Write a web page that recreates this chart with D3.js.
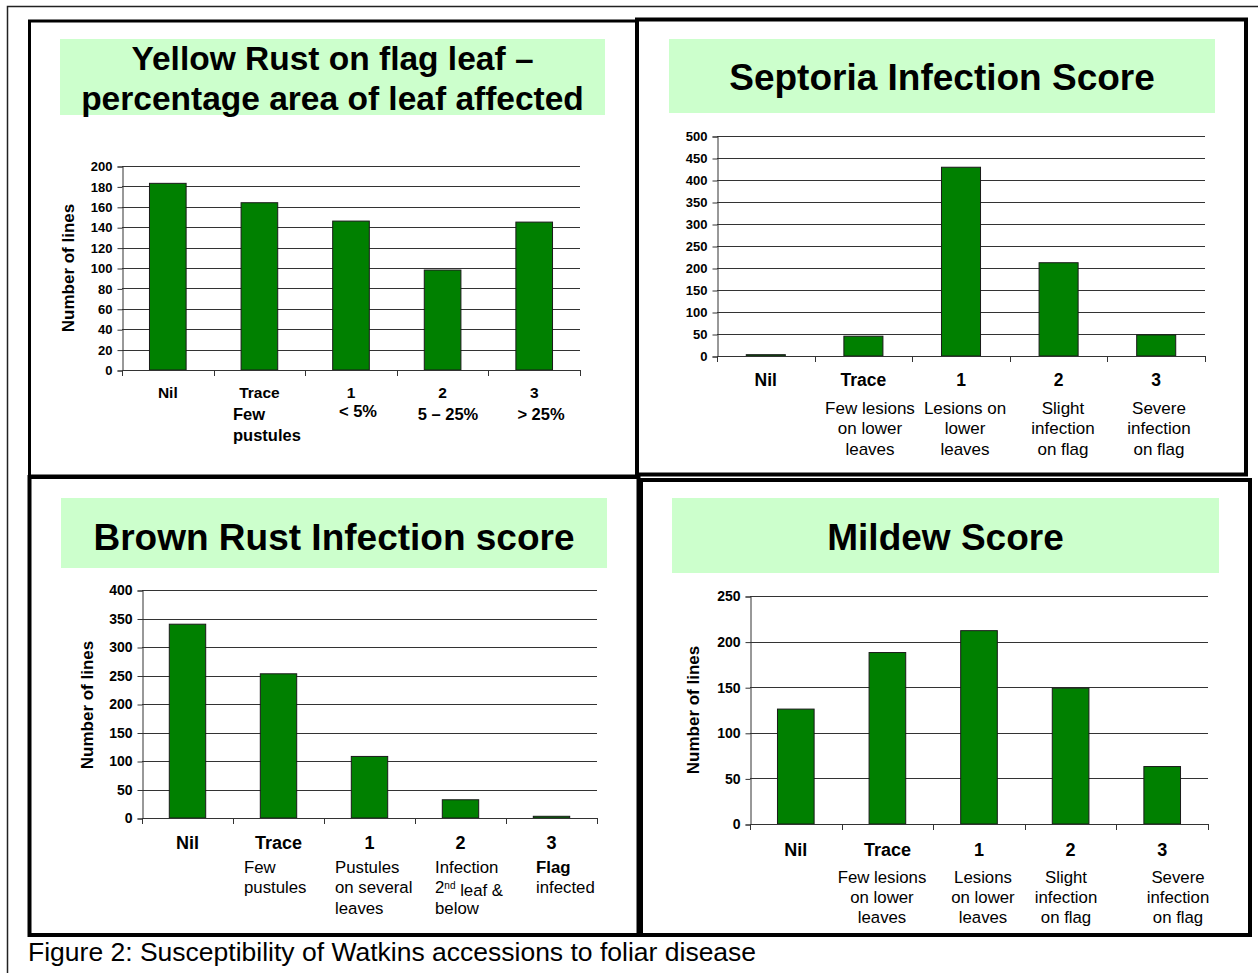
<!DOCTYPE html>
<html>
<head>
<meta charset="utf-8">
<script src="https://cdn.jsdelivr.net/npm/d3@7"></script>
<style>
  body { margin: 0; background: #fff; }
  svg { display: block; font-family: Arial, "Liberation Sans", sans-serif; }
</style>
</head>
<body>
<div id="chart"></div>
<script>
// categories are the same on every panel
const categories = ['Nil', 'Trace', '1', '2', '3'];

// Yellow rust on flag leaf
const rustValues = [183, 164, 146, 98, 145];
const rustSub = [[], ['Few', 'pustules'], ['< 5%'], ['5 \u2013 25%'], ['> 25%']];
const rustTicks = [0, 20, 40, 60, 80, 100, 120, 140, 160, 180, 200];

// Septoria
const septValues = [3, 45, 429, 212, 48];
const septSub = [[], ['Few lesions', 'on lower', 'leaves'], ['Lesions on', 'lower', 'leaves'],
  ['Slight', 'infection', 'on flag'], ['Severe', 'infection', 'on flag']];
const septTicks = [0, 50, 100, 150, 200, 250, 300, 350, 400, 450, 500];

// Brown rust
const brownValues = [340, 253, 108, 32, 3];
const brownSub = [[], ['Few', 'pustules'], ['Pustules', 'on several', 'leaves'],
  ['Infection', '2nd leaf &', 'below'], ['Flag', 'infected']];
const brownTicks = [0, 50, 100, 150, 200, 250, 300, 350, 400];

// Mildew
const mildewValues = [126, 188, 212, 149, 63];
const mildewSub = [[], ['Few lesions', 'on lower', 'leaves'], ['Lesions', 'on lower', 'leaves'],
  ['Slight', 'infection', 'on flag'], ['Severe', 'infection', 'on flag']];
const mildewTicks = [0, 50, 100, 150, 200, 250];

const svg = d3.select('#chart').append('svg')
  .attr('width', 1258)
  .attr('height', 973);

// outer thin frame
svg.append('path')
  .attr('d', 'M7.5,973 V6.5 H1258')
  .attr('fill', 'none')
  .attr('stroke', '#222')
  .attr('stroke-width', 1.5);

// panel frames
const frames = [
  {x: 29.5, y: 21, w: 607, h: 455, sw: 3},
  {x: 637, y: 19.5, w: 609, h: 455, sw: 4},
  {x: 29.5, y: 477, w: 609, h: 458, sw: 4},
  {x: 641, y: 480, w: 609, h: 455, sw: 4}
];
svg.selectAll('rect.frame')
  .data(frames)
  .enter()
  .append('rect')
  .attr('class', 'frame')
  .attr('x', d => d.x)
  .attr('y', d => d.y)
  .attr('width', d => d.w)
  .attr('height', d => d.h)
  .attr('fill', 'none')
  .attr('stroke', '#000')
  .attr('stroke-width', d => d.sw);

const panels = [
  {
    title: ['Yellow Rust on flag leaf \u2013', 'percentage area of leaf affected'],
    box: {x: 60, y: 39, w: 545, h: 76}, titleY: [58, 98], titleSize: 33.5,
    values: rustValues, sub: rustSub, ticks: rustTicks, max: 200,
    left: 122, right: 580, top: 166, bottom: 370,
    tickSize: 13, ytitle: {x: 68, y: 268},
    catY: 393, catSize: 15.5, subY: 414, subStep: 21, subBold: true, subSize: 16.5,
    subAlign: 'custom', subCx: [0, 233, 358, 448, 541]
  },
  {
    title: ['Septoria Infection Score'],
    box: {x: 669, y: 39, w: 546, h: 74}, titleY: [77], titleSize: 37,
    values: septValues, sub: septSub, ticks: septTicks, max: 500,
    left: 717, right: 1205, top: 136, bottom: 356,
    tickSize: 13, ytitle: null,
    catY: 380, catSize: 17.5, subY: 408, subStep: 20.5, subBold: false, subSize: 17,
    subAlign: 'middle', subCx: [0, 870, 965, 1063, 1159]
  },
  {
    title: ['Brown Rust Infection score'],
    box: {x: 61, y: 498, w: 546, h: 70}, titleY: [537], titleSize: 37,
    values: brownValues, sub: brownSub, ticks: brownTicks, max: 400,
    left: 142, right: 597, top: 590, bottom: 818,
    tickSize: 14, ytitle: {x: 87, y: 705},
    catY: 843, catSize: 18, subY: 867, subStep: 20.5, subBold: false, subSize: 16.8,
    subAlign: 'start', subCx: [0, 244, 335, 435, 536]
  },
  {
    title: ['Mildew Score'],
    box: {x: 672, y: 498, w: 547, h: 75}, titleY: [537], titleSize: 37,
    values: mildewValues, sub: mildewSub, ticks: mildewTicks, max: 250,
    left: 750, right: 1208, top: 596, bottom: 824,
    tickSize: 14, ytitle: {x: 693, y: 710},
    catY: 850, catSize: 18, subY: 877, subStep: 20, subBold: false, subSize: 16.8,
    subAlign: 'middle', subCx: [0, 882, 983, 1066, 1178]
  }
];

panels.forEach(drawPanel);

function drawPanel(p) {
  const g = svg.append('g');

  // title box
  g.append('rect')
    .attr('x', p.box.x).attr('y', p.box.y)
    .attr('width', p.box.w).attr('height', p.box.h)
    .attr('fill', '#ccffcc');

  g.selectAll('text.title')
    .data(p.title)
    .enter()
    .append('text')
    .attr('class', 'title')
    .attr('x', p.box.x + p.box.w / 2)
    .attr('y', (d, i) => p.titleY[i])
    .attr('dy', '0.35em')
    .attr('text-anchor', 'middle')
    .style('font-size', p.titleSize + 'px')
    .style('font-weight', 'bold')
    .text(d => d);

  const x = d3.scaleBand()
    .domain(categories)
    .range([p.left, p.right])
    .paddingInner(0.6)
    .paddingOuter(0.3);

  const y = d3.scaleLinear()
    .domain([0, p.max])
    .range([p.bottom, p.top]);

  // gridlines
  g.selectAll('line.grid')
    .data(p.ticks.filter(t => t > 0))
    .enter()
    .append('line')
    .attr('x1', p.left).attr('x2', p.right)
    .attr('y1', d => Math.round(y(d)) + 0.5)
    .attr('y2', d => Math.round(y(d)) + 0.5)
    .attr('stroke', '#333')
    .attr('stroke-width', 1);

  // bars
  g.selectAll('rect.bar')
    .data(p.values)
    .enter()
    .append('rect')
    .attr('x', (d, i) => x(categories[i]))
    .attr('y', d => y(d))
    .attr('width', x.bandwidth())
    .attr('height', d => p.bottom - y(d))
    .attr('fill', '#008000')
    .attr('stroke', '#1a1a1a')
    .attr('stroke-width', 1);

  // y axis
  const yAxis = g.append('g')
    .attr('transform', `translate(${p.left + 0.5},0.5)`)
    .call(d3.axisLeft(y).tickValues(p.ticks).tickSize(5).tickPadding(5).tickFormat(d3.format('d')));
  yAxis.select('.domain').attr('stroke', '#333');
  yAxis.selectAll('line').attr('stroke', '#333');
  yAxis.selectAll('text')
    .attr('fill', '#000')
    .style('font-size', p.tickSize + 'px')
    .style('font-weight', 'bold')
    .style('font-family', 'Arial, "Liberation Sans", sans-serif');

  // x axis with ticks at the band edges
  const edges = d3.range(categories.length + 1).map(i => p.left + i * x.step());
  g.append('line')
    .attr('x1', p.left).attr('x2', p.right)
    .attr('y1', p.bottom + 0.5).attr('y2', p.bottom + 0.5)
    .attr('stroke', '#333');
  g.selectAll('line.xtick')
    .data(edges)
    .enter()
    .append('line')
    .attr('x1', d => Math.round(d) + 0.5).attr('x2', d => Math.round(d) + 0.5)
    .attr('y1', p.bottom).attr('y2', p.bottom + 6)
    .attr('stroke', '#333');

  // category labels
  g.selectAll('text.cat')
    .data(categories)
    .enter()
    .append('text')
    .attr('x', d => x(d) + x.bandwidth() / 2)
    .attr('y', p.catY)
    .attr('dy', '0.35em')
    .attr('text-anchor', 'middle')
    .style('font-size', p.catSize + 'px')
    .style('font-weight', 'bold')
    .text(d => d);

  // sub labels
  p.sub.forEach((lines, i) => {
    lines.forEach((line, j) => {
      let anchor = 'middle';
      if (p.subAlign === 'start' || (p.subAlign === 'custom' && i === 1)) anchor = 'start';
      let ty = p.subY + j * p.subStep;
      if (p.subAlign === 'custom' && i === 2) ty -= 3;
      const t = g.append('text')
        .attr('x', p.subCx[i])
        .attr('y', ty)
        .attr('dy', '0.35em')
        .attr('text-anchor', anchor)
        .style('font-size', p.subSize + 'px')
        .style('font-weight', (p.subBold || (line === 'Flag')) ? 'bold' : 'normal');
      if (line.startsWith('2nd')) {
        t.append('tspan').text('2');
        t.append('tspan').attr('dy', '-0.45em').style('font-size', '10px').text('nd');
        t.append('tspan').attr('dy', '0.45em').text(line.slice(3));
      } else {
        t.text(line);
      }
    });
  });

  // y axis title
  if (p.ytitle) {
    g.append('text')
      .attr('transform', `translate(${p.ytitle.x},${p.ytitle.y}) rotate(-90)`)
      .attr('dy', '0.35em')
      .attr('text-anchor', 'middle')
      .style('font-size', '17px')
      .style('font-weight', 'bold')
      .text('Number of lines');
  }
}

// figure caption
svg.append('text')
  .attr('x', 28)
  .attr('y', 952)
  .attr('dy', '0.35em')
  .style('font-size', '26.5px')
  .text('Figure 2: Susceptibility of Watkins accessions to foliar disease');
</script>
</body>
</html>
